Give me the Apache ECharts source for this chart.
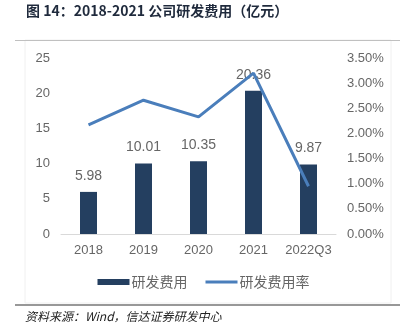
<!DOCTYPE html>
<html>
<head>
<meta charset="utf-8">
<script src="https://cdn.jsdelivr.net/npm/echarts@6/dist/echarts.min.js"></script>
<style>
  html, body { margin: 0; padding: 0; background: #fff; }
  #chart { width: 407px; height: 334px; }
</style>
</head>
<body>
<div id="chart"></div>
<script>
// R&D spending (100 million yuan) and R&D expense ratio (%)
const categories = ['2018', '2019', '2020', '2021', '2022Q3'];
const rdExpense = [5.98, 10.01, 10.35, 20.36, 9.87];
const rdRatio = [2.17, 2.66, 2.33, 3.20, 0.95];
const leftTicks = { min: 0, max: 25, interval: 5 };
const rightTicks = { min: 0, max: 3.5, interval: 0.5 };

const textColor = '#666666';
const fontFamily = '"Liberation Sans", "Noto Sans CJK SC", sans-serif';

const chart = echarts.init(document.getElementById('chart'));
chart.setOption({
  animation: false,
  textStyle: { fontFamily: fontFamily },
  grid: { left: 61, right: 71, top: 58, bottom: 100 },
  graphic: [
    {
      type: 'text', left: 26, top: 4,
      style: {
        text: '图 14：2018-2021 公司研发费用（亿元）',
        fontFamily: '"Noto Sans CJK SC", sans-serif',
        fontWeight: 'bold', fontSize: 14, fill: '#1f2a3c'
      }
    },
    { type: 'rect', shape: { x: 25, y: 40, width: 366, height: 263 },
      style: { fill: 'none', stroke: '#f0f0f0', lineWidth: 1 }, silent: true },
    { type: 'line', shape: { x1: 15, y1: 40.5, x2: 400, y2: 40.5 },
      style: { stroke: '#c0c0c0', lineWidth: 1 } },
    { type: 'line', shape: { x1: 15, y1: 305, x2: 400, y2: 305 },
      style: { stroke: '#333333', lineWidth: 1.2 } },
    {
      type: 'text', left: 25, top: 310,
      style: {
        text: '资料来源：Wind，信达证券研发中心',
        fontFamily: '"Noto Sans CJK SC", sans-serif',
        fontStyle: 'italic', fontSize: 12, fill: '#222'
      }
    }
  ],
  legend: {
    top: 270,
    left: 'center',
    itemGap: 18,
    itemWidth: 32,
    itemHeight: 6,
    textStyle: { color: textColor, fontSize: 14, fontFamily: '"Noto Sans CJK SC", sans-serif', padding: [0, 0, 0, -3] },
    data: [
      { name: '研发费用', icon: 'rect' },
      { name: '研发费用率', icon: 'path://M0,0H32V3H0Z' }
    ]
  },
  xAxis: {
    type: 'category',
    data: categories,
    axisLine: { lineStyle: { color: '#d9d9d9', width: 1 } },
    axisTick: { show: false },
    axisLabel: { color: textColor, fontSize: 13, margin: 10, interval: 0 }
  },
  yAxis: [
    {
      type: 'value',
      min: leftTicks.min, max: leftTicks.max, interval: leftTicks.interval,
      splitLine: { show: false },
      axisLine: { show: false },
      axisLabel: { color: textColor, fontSize: 13, margin: 11 }
    },
    {
      type: 'value',
      min: rightTicks.min, max: rightTicks.max, interval: rightTicks.interval,
      splitLine: { show: false },
      axisLine: { show: false },
      axisLabel: {
        color: textColor, fontSize: 13, margin: 11,
        formatter: v => v.toFixed(2) + '%'
      }
    }
  ],
  series: [
    {
      name: '研发费用',
      type: 'bar',
      data: rdExpense,
      barWidth: 17,
      itemStyle: { color: '#243f60' },
      label: {
        show: true, position: 'top', distance: 9,
        color: textColor, fontSize: 14,
        formatter: p => p.value.toFixed(2)
      },
      z: 2
    },
    {
      name: '研发费用率',
      type: 'line',
      yAxisIndex: 1,
      data: rdRatio,
      symbol: 'none',
      lineStyle: { color: '#4a7ebb', width: 3 },
      itemStyle: { color: '#4a7ebb' },
      z: 3
    }
  ]
});
</script>
</body>
</html>
